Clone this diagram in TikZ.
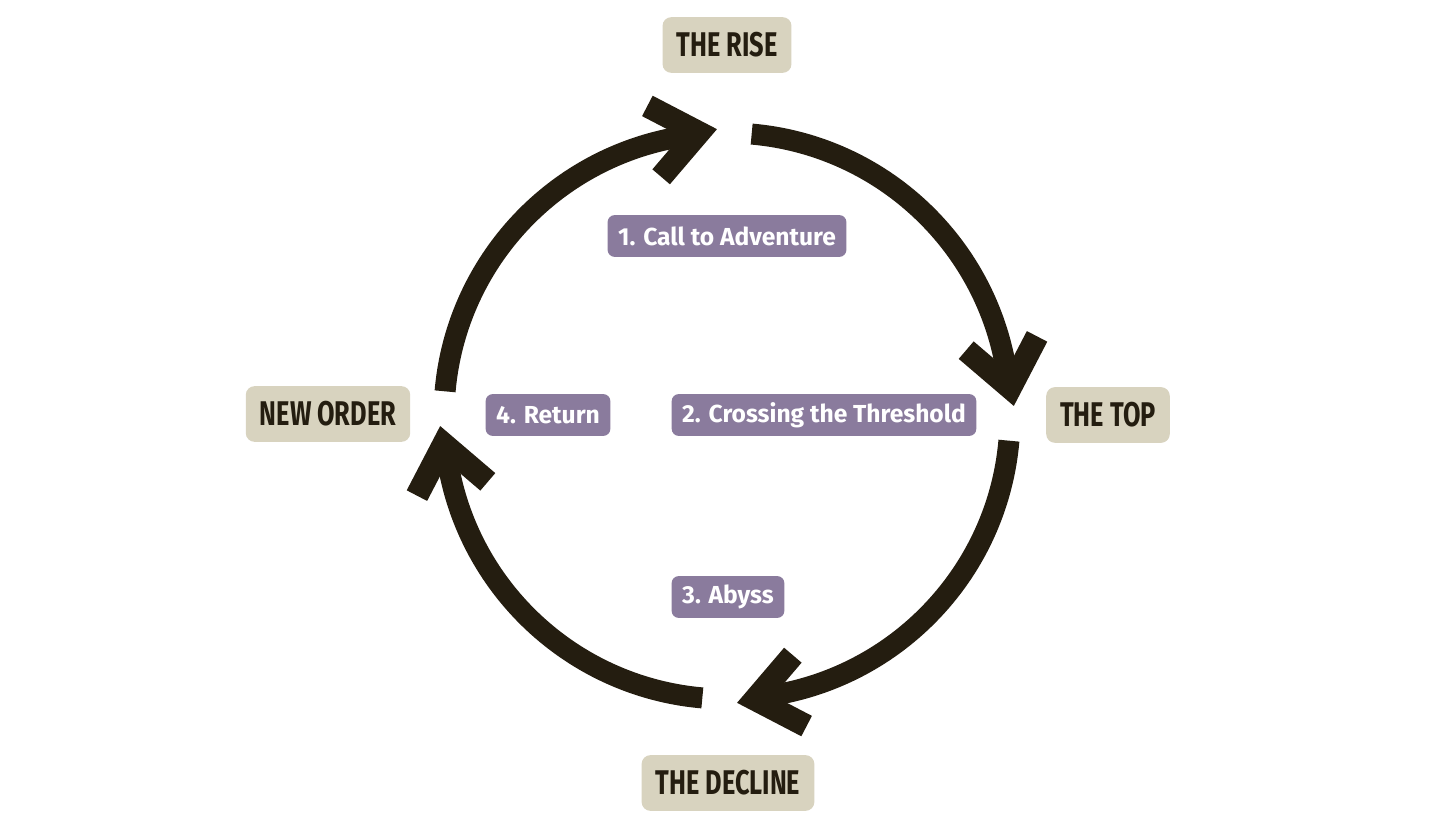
\documentclass[tikz,border=0pt]{standalone}
\usepackage{fontspec}
\setmainfont{Fira Sans}
\newfontfamily\stagefont[FakeStretch=0.74]{Fira Sans}
\definecolor{arco}{HTML}{241D10}
\definecolor{arena}{HTML}{D8D3BF}
\definecolor{lila}{HTML}{8A7B9D}

\begin{document}
\begin{tikzpicture}[x=0.2mm, y=0.2mm,
		etapa/.style={fill=arena, text=arco, rounded corners=5pt, minimum height=31.7pt, inner xsep=8pt, font=\stagefont\bfseries\fontsize{19.5}{21}\selectfont},
		fase/.style={fill=lila, text=white, rounded corners=4pt, minimum height=23.8pt, inner xsep=6pt, font=\bfseries\fontsize{14}{16}\selectfont},
		trazo/.style={draw=arco, line width=4.2mm},
		punta/.pic={\draw[trazo, line width=4.6mm, line join=miter] (-63.9,36.1) -- (-18.5,0) -- (-63.9,-36.1);}]
	\useasboundingbox (0,0) rectangle (1456,832);
	\coordinate (c) at (727,416);
	\node[etapa] (rise) at (727,787) {THE RISE};
	\node[etapa] (top) at (1108,417) {THE TOP};
	\node[etapa] (decline) at (728,49) {THE DECLINE};
	\node[etapa] (order) at (328,418) {NEW ORDER};
	\node[fase] (call) at (727,596) {1. Call to Adventure};
	\node[fase] (cross) at (824,417) {2. Crossing the Threshold};
	\node[fase] (abyss) at (728,235) {3. Abyss};
	\node[fase] (return) at (548,417) {4. Return};

	\draw[trazo] ([shift={(175:283)}]c) arc[start angle=175, end angle=96, radius=283];
	\pic[rotate=11] at ([shift={(92:287)}]c) {punta};
	\draw[trazo] ([shift={(85:283)}]c) arc[start angle=85, end angle=6, radius=283];
	\pic[rotate=-79] at ([shift={(2:287)}]c) {punta};
	\draw[trazo] ([shift={(-5:283)}]c) arc[start angle=-5, end angle=-84, radius=283];
	\pic[rotate=-169] at ([shift={(-88:287)}]c) {punta};
	\draw[trazo] ([shift={(-95:283)}]c) arc[start angle=-95, end angle=-174, radius=283];
	\pic[rotate=101] at ([shift={(-178:287)}]c) {punta};
\end{tikzpicture}
\end{document}
